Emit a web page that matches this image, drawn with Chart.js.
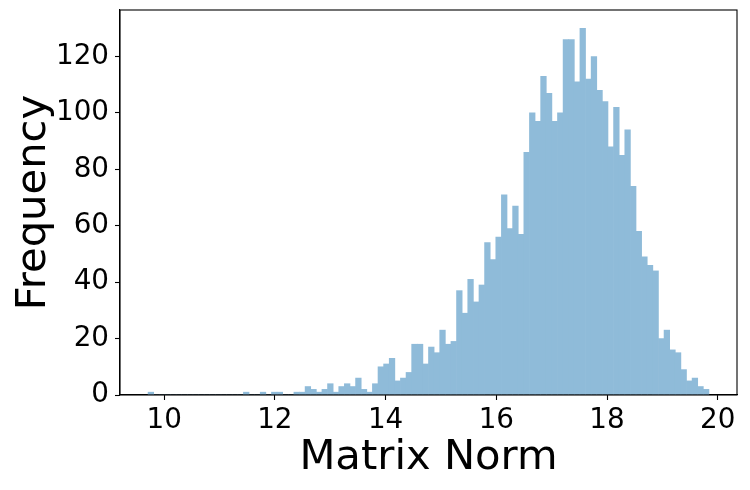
<!DOCTYPE html>
<html>
<head>
<meta charset="utf-8">
<script src="https://cdn.jsdelivr.net/npm/chart.js@4.4.1/dist/chart.umd.min.js"></script>
<style>
  html, body { margin: 0; padding: 0; background: #fff; }
  #wrap { width: 750px; height: 490px; }
</style>
</head>
<body>
<div id="wrap"><canvas id="c" width="750" height="490"></canvas></div>
<script>
// Histogram bins: first bin left edge and bin width (Matrix Norm units)
const binStart = 9.71;
const binWidth = 0.1013;
// Frequency count per bin (100 bins)
const counts = [
  1, 0, 0, 0, 0, 0, 0, 0, 0, 0,
  0, 0, 0, 0, 0, 0, 0, 1, 0, 0,
  1, 0, 1, 1, 0, 0, 1, 1, 3, 2,
  1, 2, 4, 1, 3, 4, 3, 6, 2, 1,
  4, 10, 11, 13, 5, 6, 8, 18, 18, 11,
  17, 15, 23, 18, 19, 37, 29, 41, 33, 39,
  54, 48, 56, 71, 59, 67, 57, 86, 100, 97,
  113, 107, 97, 100, 126, 126, 111, 130, 112, 120,
  108, 104, 88, 102, 85, 94, 74, 58, 49, 46,
  44, 20, 23, 16, 15, 9, 5, 6, 3, 2
];
const xTicks = [10, 12, 14, 16, 18, 20];
const yTicks = [0, 20, 40, 60, 80, 100, 120];
const xRange = [9.203, 20.347];
const yRange = [0, 136.5];

const points = counts.map((c, i) => ({ x: binStart + (i + 0.5) * binWidth, y: c }));

const frame = {
  id: 'frame',
  afterDatasetsDraw(chart) {
    const a = chart.chartArea, ctx = chart.ctx;
    ctx.save();
    ctx.strokeStyle = '#000';
    ctx.lineWidth = 1.1;
    ctx.strokeRect(a.left, a.top, a.right - a.left, a.bottom - a.top);
    ctx.restore();
  }
};

const tickFont = { family: 'DejaVu Sans', size: 27.8 };
const titleFont = { family: 'DejaVu Sans', size: 41.7 };

new Chart(document.getElementById('c'), {
  type: 'bar',
  data: {
    datasets: [{
      data: points,
      backgroundColor: '#8fbbd9',
      borderWidth: 0,
      barPercentage: 1,
      categoryPercentage: 1
    }]
  },
  plugins: [frame],
  options: {
    responsive: false,
    animation: false,
    layout: { padding: { top: 10, right: 13, left: 0, bottom: 0 } },
    plugins: { legend: { display: false }, tooltip: { enabled: false } },
    scales: {
      x: {
        type: 'linear',
        min: xRange[0], max: xRange[1],
        offset: false,
        afterBuildTicks(s) { s.ticks = xTicks.map(v => ({ value: v })); },
        afterFit(s) { s.height = 95; s.paddingLeft = 0; s.paddingRight = 0; },
        grid: { drawOnChartArea: false, drawTicks: true, tickLength: 5, tickWidth: 1.1, tickColor: '#000', offset: false },
        border: { display: true, color: '#000', width: 1.1 },
        ticks: { color: '#000', font: tickFont, padding: 4, maxRotation: 0, autoSkip: false },
        title: { display: true, text: 'Matrix Norm', color: '#000', font: titleFont, padding: { top: 0, bottom: 7 } }
      },
      y: {
        min: yRange[0], max: yRange[1],
        afterBuildTicks(s) { s.ticks = yTicks.map(v => ({ value: v })); },
        afterFit(s) { s.width = 120; s.paddingTop = 0; s.paddingBottom = 0; },
        grid: { drawOnChartArea: false, drawTicks: true, tickLength: 5, tickWidth: 1.1, tickColor: '#000' },
        border: { display: true, color: '#000', width: 1.1 },
        ticks: { color: '#000', font: tickFont, padding: 6, autoSkip: false },
        title: { display: true, text: 'Frequency', color: '#000', font: titleFont, padding: { top: 9, bottom: 0 } }
      }
    }
  }
});
</script>
</body>
</html>
